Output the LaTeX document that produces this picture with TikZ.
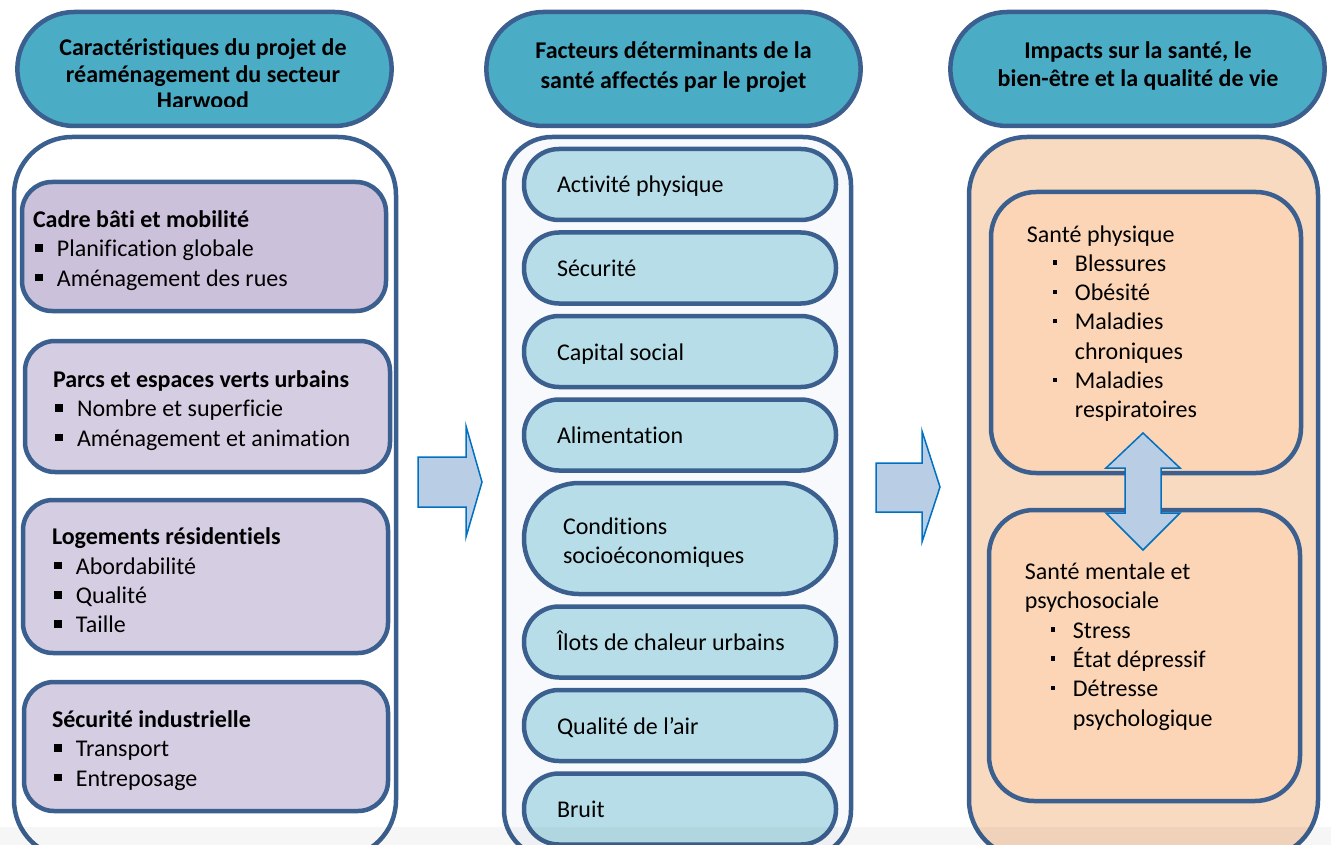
\documentclass[tikz,border=0pt]{standalone}
\usepackage{fontspec}
\setmainfont{Carlito}[Ligatures=CommonOff]
\usepackage{tikz}
\usetikzlibrary{positioning,shapes.misc}

\definecolor{bordure}{HTML}{3B5F8E}
\definecolor{turquoise}{HTML}{4BACC6}
\definecolor{mauvefonce}{HTML}{CCC1DA}
\definecolor{mauve}{HTML}{D5CDE1}
\definecolor{bleupale}{HTML}{B7DEE8}
\definecolor{fondbleu}{HTML}{F7F9FD}
\definecolor{fondpeche}{HTML}{F8DAC0}
\definecolor{peche}{HTML}{FBD5B5}
\definecolor{flechefond}{HTML}{B9CDE5}
\definecolor{flechebord}{HTML}{0070C0}

\newcommand{\puce}{\makebox[24pt][l]{\hspace{2pt}\rule[5pt]{7.5pt}{7.5pt}}}
\newcommand{\petitepuce}{\makebox[48pt][l]{\hspace{26pt}\rule[6.5pt]{4.5pt}{4.5pt}}}
\newcommand{\suite}{\hspace*{48pt}}
\newcommand{\haut}{\rule{0pt}{25pt}}

\begin{document}
\begin{tikzpicture}[x=1pt, y=-1pt,
    texte/.style={font=\fontsize{24}{29.3}\selectfont, align=flush left, inner sep=0pt},
    titre/.style={font=\bfseries\fontsize{24}{28}\selectfont, align=center, inner sep=0pt},
    entete/.style={rounded rectangle, draw=bordure, fill=turquoise, line width=4.5pt, minimum width=381pt, minimum height=114pt},
    cadre/.style={rectangle, rounded corners=58pt, draw=bordure, line width=4.5pt, minimum height=721pt},
    bloc/.style={rectangle, rounded corners=30pt, draw=bordure, fill=mauve, line width=4.5pt, texte},
    facteur/.style={rectangle, rounded corners=35pt, draw=bordure, fill=bleupale, line width=4.5pt, minimum width=312pt, minimum height=71pt, texte, inner xsep=33pt, text width=246pt, text height=19.5pt, text depth=2.5pt},
    impact/.style={rectangle, rounded corners=45pt, draw=bordure, fill=peche, line width=4.5pt},
    fleche/.style={draw=flechebord, fill=flechefond, line width=1.5pt, line join=miter},
]
    \useasboundingbox (0,0) rectangle (1331,845);
    \clip (0,0) rectangle (1331,845);

    % en-tetes
    \node[entete] (entCarac) at (204.5,69) {};
    \node[entete] (entFacteurs) at (673.5,69) {};
    \node[entete] (entImpacts) at (1137.5,69) {};
    \begin{scope}
        \clip (0,0) rectangle (1331,107);
        \node[titre, font=\bfseries\fontsize{24}{26.5}\selectfont] (titreCarac) at (203,73.7) {Caractéristiques du projet de\\réaménagement du secteur\\Harwood};
    \end{scope}
    \node[titre, font=\bfseries\fontsize{24}{30}\selectfont] (titreFacteurs) at (673.5,67) {Facteurs déterminants de la\\santé affectés par le projet};
    \node[titre] (titreImpacts) at (1138,66) {Impacts sur la santé, le\\bien-être et la qualité de vie};

    % grands cadres
    \node[cadre, fill=white, minimum width=382pt] (cadreCarac) at (205,497.5) {};
    \node[cadre, fill=fondbleu, rounded corners=48pt, minimum width=347pt] (cadreFacteurs) at (677.5,497.5) {};
    \node[cadre, fill=fondpeche, minimum width=349pt] (cadreImpacts) at (1143.5,497.5) {};

    % caracteristiques du projet
    \node[bloc, fill=mauvefonce, minimum height=129pt, inner xsep=11pt, text width=342pt] (bati) at (204,246.5)
        {\haut\textbf{Cadre bâti et mobilité}\\ \puce Planification globale\\ \puce Aménagement des rues};
    \node[bloc, minimum height=131pt, inner xsep=28pt, text width=309pt] (parcs) at (207.5,406.5)
        {\haut\textbf{Parcs et espaces verts urbains}\\ \puce Nombre et superficie\\ \puce Aménagement et animation};
    \node[bloc, minimum height=153pt, inner xsep=29pt, text width=307pt] (logements) at (205.5,576.5)
        {\haut\textbf{Logements résidentiels}\\ \puce Abordabilité\\ \puce Qualité\\ \puce Taille};
    \node[bloc, minimum height=129pt, inner xsep=28pt, text width=308pt] (industrie) at (206,746.5)
        {\haut\textbf{Sécurité industrielle}\\ \puce Transport\\ \puce Entreposage};

    % facteurs determinants
    \node[facteur] (f1) at (680,184.5) {Activité physique};
    \node[facteur, below=8pt of f1] (f2) {Sécurité};
    \node[facteur, below=8pt of f2] (f3) {Capital social};
    \node[facteur, below=8pt of f3] (f4) {Alimentation};
    \node[facteur, below=8pt of f4, minimum height=111pt, rounded corners=55pt, inner xsep=39pt, text width=234pt, text height=, text depth=] (f5) {\haut Conditions\\socioéconomiques};
    \node[facteur, below=8pt of f5] (f6) {Îlots de chaleur urbains};
    \node[facteur, below=8pt of f6] (f7) {Qualité de l’air};
    \node[facteur, below=8pt of f7] (f8) {Bruit};

    % impacts
    \node[impact, minimum width=310pt, minimum height=281pt] (physique) at (1146,332.5) {};
    \node[impact, minimum width=311pt, minimum height=291pt] (mentale) at (1144.5,655.5) {};
    \node[texte, anchor=west] (physiqueTxt) at ([xshift=38pt,yshift=9pt]physique.west)
        {Santé physique\\ \petitepuce Blessures\\ \petitepuce Obésité\\ \petitepuce Maladies\\ \suite chroniques\\ \petitepuce Maladies\\ \suite respiratoires};
    \node[texte, anchor=west] (mentaleTxt) at ([xshift=38pt,yshift=9pt]mentale.west)
        {Santé mentale et\\psychosociale\\ \petitepuce Stress\\ \petitepuce État dépressif\\ \petitepuce Détresse\\ \suite psychologique};

    % fleches
    \draw[fleche] (418,457) -- (466,457) -- (466,426) -- (482,482) -- (466,537) -- (466,507) -- (418,507) -- cycle;
    \draw[fleche] (876,463) -- (922,463) -- (922,431) -- (940,487) -- (922,542) -- (922,512) -- (876,512) -- cycle;
    \draw[fleche] (1143,433) -- (1180,468) -- (1161,468) -- (1161,513) -- (1180,513) -- (1143,550)
        -- (1106,513) -- (1125,513) -- (1125,468) -- (1106,468) -- cycle;

    \fill[black, opacity=0.035] (0,827) rectangle (1331,845);
\end{tikzpicture}
\end{document}
